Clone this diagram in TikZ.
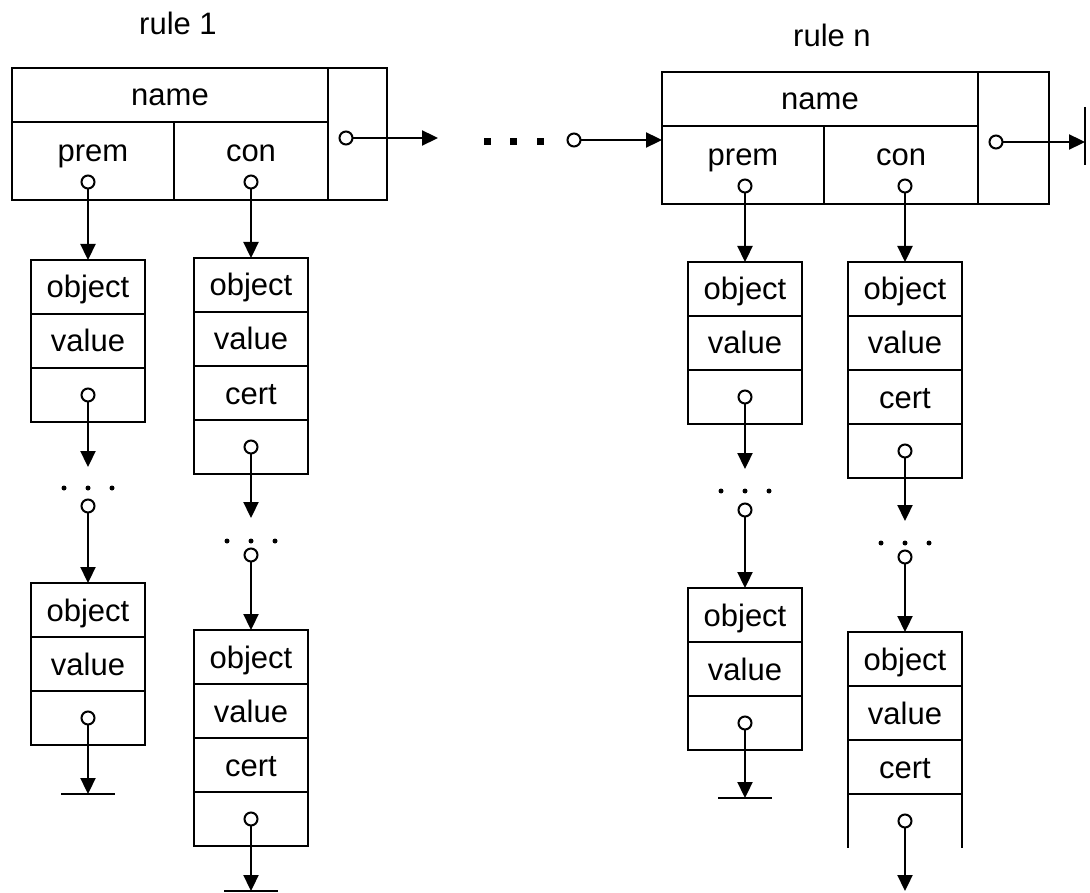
\documentclass[tikz,border=0pt]{standalone}
\usepackage{fontspec}
\setmainfont{Liberation Sans}
\usetikzlibrary{arrows.meta}
\newcommand{\cellfont}{\fontsize{31}{37}\selectfont}
\tikzstyle{cell}=[rectangle, draw=black, line width=2.8pt, minimum width=114pt, minimum height=54pt, inner sep=0pt, outer sep=0pt, anchor=center, font=\cellfont, text height=22pt, text depth=0pt]
\tikzstyle{annot}=[align=center, inner sep=0pt, font=\cellfont, text height=22pt, text depth=0pt]
\tikzstyle{frame}=[line width=2.8pt]
\tikzstyle{ptr}=[circle, draw=black, fill=white, line width=2pt, minimum size=13pt, inner sep=0pt, outer sep=0pt]
\tikzstyle{link}=[line width=2.3pt, -{Triangle[length=16pt,width=15pt]}]
\tikzstyle{ground}=[line width=2.3pt]
\tikzstyle{dot}=[circle, fill=black, minimum size=5pt, inner sep=0pt]
\tikzstyle{bigdot}=[rectangle, fill=black, minimum size=7pt, inner sep=0pt]
% rule record: name, prem, con and the pointer to the next rule
\newcommand{\drawrule}[6]
{
	\node[cell, minimum width=316pt, anchor=north west] (#1-name) at (#2,#3) {name};
	\node[cell, minimum width=162pt, minimum height=78pt, anchor=north west] (#1-prem) at (#1-name.south west) {};
	\node[cell, minimum width=154pt, minimum height=78pt, anchor=north west] (#1-con) at (#1-prem.north east) {};
	\node[cell, minimum width=#4, minimum height=132pt, anchor=north west] (#1-link) at (#1-name.north east) {};
	\node[annot] (#1-premlbl) at ([yshift=10pt]#1-prem.center) {prem};
	\node[annot] (#1-conlbl) at ([yshift=10pt]#1-con.center) {con};
	\node[ptr] (#1-pp) at (#5,#3+114) {};
	\node[ptr] (#1-cp) at (#6,#3+114) {};
	\node[ptr] (#1-next) at ([xshift=18pt, yshift=-4pt]#1-link.west) {};
}
% one list element, fields stacked from the top
\newcommand{\drawlist}[4]
{
	\foreach \lbl [count=\i] in {#4}
		\node[cell] (#1-\i) at (#2,{#3+27+54*(\i-1)}) {\lbl};
}
\newcommand{\drawdots}[3]
{
	\foreach \dx [count=\k] in {-24,0,24}
		\node[dot] (#1-\k) at ({#2+\dx},#3) {};
}

\begin{document}
\begin{tikzpicture}[x=1pt, y=-1pt]
	\useasboundingbox (0,0) rectangle (1090,893);

	\node[annot] (r1-title) at (178,24) {rule 1};
	\node[annot] (rn-title) at (832,36) {rule n};

	\drawrule{r1}{12}{68}{59pt}{88}{251}
	\drawrule{rn}{662}{72}{71pt}{745}{905}

	% chain of rules
	\coordinate (r1-out) at ([xshift=92pt]r1-next.center);
	\draw[link] (r1-next) -- (r1-out);
	\foreach \x [count=\k] in {487,513,540}
		\node[bigdot] (more-\k) at (\x,142) {};
	\node[ptr] (rn-prev) at (574,140) {};
	\draw[link] (rn-prev) -- (rn-prem.west |- rn-prev);
	\coordinate (rn-end) at ([xshift=89pt]rn-next.center);
	\draw[link] (rn-next) -- (rn-end);
	\draw[ground] (rn-end) ++(0,-35) -- ++(0,58);

	% rule 1, premises
	\drawlist{lp1}{88}{260}{object,value,{}}
	\node[ptr] (lp1-p) at (lp1-3) {};
	\coordinate (lp1-gap) at (88,467);
	\drawdots{lp1-d}{88}{488}
	\node[ptr] (lp1-cont) at (88,506) {};
	\drawlist{lp2}{88}{583}{object,value,{}}
	\node[ptr] (lp2-p) at (lp2-3) {};
	\coordinate (lp2-end) at (88,794);
	\draw[link] (r1-pp) -- (lp1-1.north);
	\draw[link] (lp1-p) -- (lp1-gap);
	\draw[link] (lp1-cont) -- (lp2-1.north);
	\draw[link] (lp2-p) -- (lp2-end);
	\draw[ground] (lp2-end) ++(-27,0) -- ++(54,0);

	% rule 1, conclusions
	\drawlist{lc1}{251}{258}{object,value,cert,{}}
	\node[ptr] (lc1-p) at (lc1-4) {};
	\coordinate (lc1-gap) at (251,518);
	\drawdots{lc1-d}{251}{541}
	\node[ptr] (lc1-cont) at (251,555) {};
	\drawlist{lc2}{251}{630}{object,value,cert,{}}
	\node[ptr] (lc2-p) at (lc2-4) {};
	\coordinate (lc2-end) at (251,891);
	\draw[link] (r1-cp) -- (lc1-1.north);
	\draw[link] (lc1-p) -- (lc1-gap);
	\draw[link] (lc1-cont) -- (lc2-1.north);
	\draw[link] (lc2-p) -- (lc2-end);
	\draw[ground] (lc2-end) ++(-27,0) -- ++(54,0);

	% rule n, premises
	\drawlist{rp1}{745}{262}{object,value,{}}
	\node[ptr] (rp1-p) at (rp1-3) {};
	\coordinate (rp1-gap) at (745,469);
	\drawdots{rp1-d}{745}{491}
	\node[ptr] (rp1-cont) at (745,510) {};
	\drawlist{rp2}{745}{588}{object,value,{}}
	\node[ptr] (rp2-p) at (rp2-3) {};
	\coordinate (rp2-end) at (745,798);
	\draw[link] (rn-pp) -- (rp1-1.north);
	\draw[link] (rp1-p) -- (rp1-gap);
	\draw[link] (rp1-cont) -- (rp2-1.north);
	\draw[link] (rp2-p) -- (rp2-end);
	\draw[ground] (rp2-end) ++(-27,0) -- ++(54,0);

	% rule n, conclusions (last element runs off the page)
	\drawlist{rc1}{905}{262}{object,value,cert,{}}
	\node[ptr] (rc1-p) at (rc1-4) {};
	\coordinate (rc1-gap) at (905,521);
	\drawdots{rc1-d}{905}{543}
	\node[ptr] (rc1-cont) at (905,557) {};
	\drawlist{rc2}{905}{632}{object,value,cert}
	\draw[frame] (rc2-3.south west) -- ++(0,54);
	\draw[frame] (rc2-3.south east) -- ++(0,54);
	\node[ptr] (rc2-p) at ([yshift=-27pt]rc2-3.south) {};
	\coordinate (rc2-end) at (905,891);
	\draw[link] (rn-cp) -- (rc1-1.north);
	\draw[link] (rc1-p) -- (rc1-gap);
	\draw[link] (rc1-cont) -- (rc2-1.north);
	\draw[link] (rc2-p) -- (rc2-end);

\end{tikzpicture}
\end{document}
